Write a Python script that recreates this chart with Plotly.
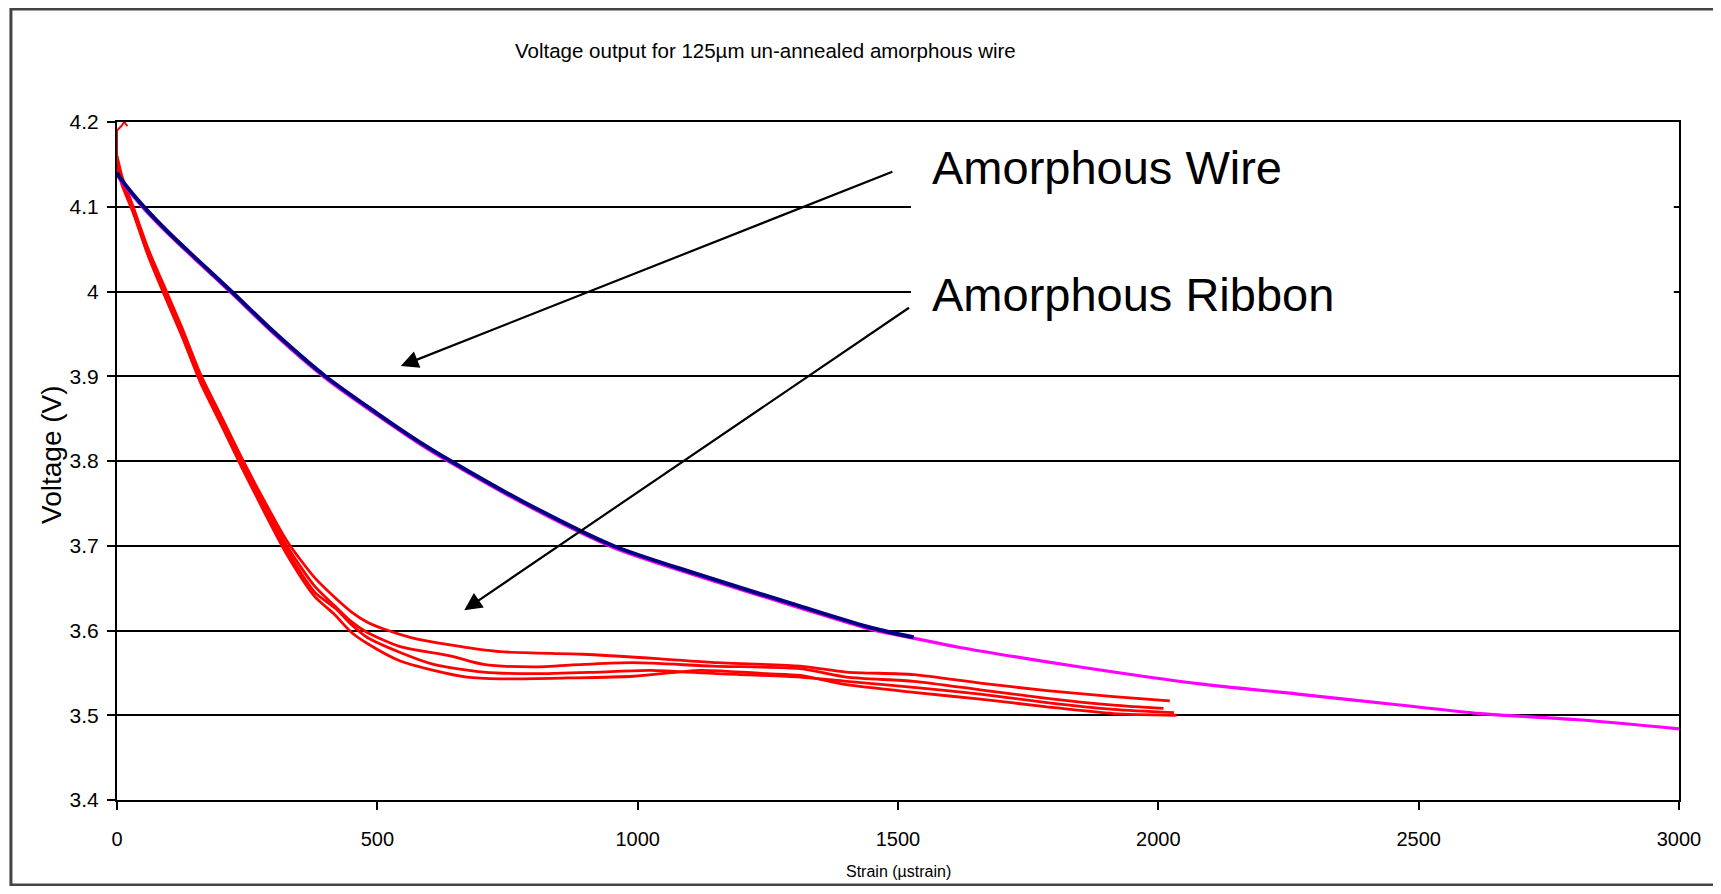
import plotly.graph_objects as go

# ---------------- data ----------------
wire_x = [0, 6, 50, 100, 150, 220, 300, 400, 500, 582, 641, 780, 953, 1112, 1310, 1450, 1530]
wire_y = [4.14, 4.134, 4.101, 4.069, 4.040, 4.00, 3.953, 3.90, 3.856, 3.822, 3.80, 3.752, 3.70, 3.667,
          3.629, 3.603, 3.592]

wire_full_x = [0, 6, 50, 100, 150, 220, 300, 400, 500, 582, 641, 780, 953, 1112, 1310, 1450, 1530,
               1619, 1786, 1914, 2080, 2268, 2450, 2618, 2800, 3000]
wire_full_y = [4.138, 4.132, 4.099, 4.067, 4.038, 3.998, 3.951, 3.898, 3.854, 3.820, 3.798, 3.750, 3.698,
               3.665, 3.627, 3.601, 3.591, 3.580, 3.563, 3.551, 3.537, 3.525, 3.513, 3.502, 3.495, 3.484]

ribbon_spike_x = [0, 0, 8, 14, 20]
ribbon_spike_y = [4.16, 4.19, 4.195, 4.2, 4.195]

ribbon_a_x = [0, 10, 31, 60, 95, 125, 160, 200, 240, 282, 326, 380, 420, 450, 480, 511, 563, 640, 736,
              896, 1056, 1152, 1312, 1401, 1530, 1658, 1786, 1914, 2022]
ribbon_a_y = [4.16, 4.135, 4.10, 4.05, 4.00, 3.957, 3.903, 3.853, 3.803, 3.754, 3.706, 3.662, 3.638, 3.622,
              3.610, 3.602, 3.592, 3.583, 3.575, 3.572, 3.566, 3.562, 3.558, 3.551, 3.548, 3.538, 3.529,
              3.522, 3.517]

ribbon_b_x = [0, 10, 31, 60, 95, 125, 160, 200, 240, 282, 326, 380, 420, 447, 480, 544, 640, 704, 800,
              896, 992, 1145, 1312, 1401, 1530, 1658, 1786, 1914, 2010]
ribbon_b_y = [4.155, 4.13, 4.098, 4.047, 3.997, 3.953, 3.899, 3.849, 3.799, 3.749, 3.700, 3.652, 3.628,
              3.612, 3.598, 3.581, 3.570, 3.560, 3.557, 3.560, 3.562, 3.558, 3.555, 3.545, 3.540, 3.530,
              3.520, 3.512, 3.508]

ribbon_c_x = [0, 10, 31, 60, 95, 125, 160, 200, 240, 282, 326, 380, 420, 450, 480, 544, 608, 704, 800,
              928, 1024, 1152, 1312, 1401, 1530, 1658, 1786, 1914, 2030]
ribbon_c_y = [4.15, 4.127, 4.095, 4.044, 3.994, 3.95, 3.896, 3.846, 3.796, 3.745, 3.695, 3.645, 3.626,
              3.607, 3.592, 3.574, 3.560, 3.551, 3.549, 3.551, 3.553, 3.549, 3.545, 3.540, 3.533, 3.525,
              3.515, 3.507, 3.503]

ribbon_d_x = [0, 10, 31, 60, 95, 125, 160, 200, 240, 282, 326, 380, 416, 450, 480, 544, 608, 672, 736,
              864, 992, 1120, 1248, 1312, 1401, 1530, 1658, 1786, 1914, 2035]
ribbon_d_y = [4.145, 4.125, 4.093, 4.042, 3.99, 3.947, 3.893, 3.843, 3.792, 3.741, 3.690, 3.640, 3.620,
              3.598, 3.585, 3.564, 3.553, 3.545, 3.543, 3.544, 3.546, 3.553, 3.549, 3.547, 3.536, 3.527,
              3.519, 3.510, 3.502, 3.500]

y_tick_vals = [4.2, 4.1, 4.0, 3.9, 3.8, 3.7, 3.6, 3.5, 3.4]
y_tick_text = ["4.2", "4.1", "4", "3.9", "3.8", "3.7", "3.6", "3.5", "3.4"]
x_tick_vals = [0, 500, 1000, 1500, 2000, 2500, 3000]
x_tick_text = ["0", "500", "1000", "1500", "2000", "2500", "3000"]

title_text = "Voltage output for 125µm un-annealed amorphous wire"
x_title = "Strain (µstrain)"
y_title = "Voltage (V)"
label_wire = "Amorphous Wire"
label_ribbon = "Amorphous Ribbon"

# ---------------- figure ----------------
ARIAL = "Arial, Liberation Sans, sans-serif"

fig = go.Figure()

ribbon_sets = [(ribbon_a_x, ribbon_a_y), (ribbon_b_x, ribbon_b_y),
               (ribbon_c_x, ribbon_c_y), (ribbon_d_x, ribbon_d_y)]
for rx, ry in ribbon_sets:
    fig.add_trace(go.Scatter(x=rx, y=ry, mode="lines",
                             line=dict(color="#FF0000", width=2.8, shape="spline", smoothing=0.7),
                             showlegend=False, hoverinfo="skip"))
fig.add_trace(go.Scatter(x=ribbon_spike_x, y=ribbon_spike_y, mode="lines",
                         line=dict(color="#FF0000", width=2), showlegend=False, hoverinfo="skip"))

fig.add_trace(go.Scatter(x=wire_full_x, y=wire_full_y, mode="lines",
                         line=dict(color="#FF00FF", width=3.2, shape="spline", smoothing=0.8),
                         showlegend=False, hoverinfo="skip"))
fig.add_trace(go.Scatter(x=wire_x, y=wire_y, mode="lines",
                         line=dict(color="#000080", width=4, shape="spline", smoothing=0.8),
                         showlegend=False, hoverinfo="skip"))

# page body has an 8px margin: plot area spans x 117..1679, y 122..800 on screen
fig.update_layout(
    width=1705, height=878,
    margin=dict(l=109, r=34, t=114, b=86),
    paper_bgcolor="white", plot_bgcolor="white",
    showlegend=False,
    font=dict(family=ARIAL, color="black"),
)

fig.update_xaxes(
    range=[0, 3000], tickvals=x_tick_vals, ticktext=x_tick_text,
    showgrid=False, zeroline=False,
    showline=True, linecolor="black", linewidth=2, mirror=True,
    ticks="outside", ticklen=8, tickwidth=1.5, tickcolor="black",
    tickfont=dict(family=ARIAL, size=20, color="black"),
    ticklabelstandoff=12,
)
fig.update_yaxes(
    range=[3.4, 4.2], tickvals=y_tick_vals, ticktext=y_tick_text,
    showgrid=True, gridcolor="black", gridwidth=2, zeroline=False,
    showline=True, linecolor="black", linewidth=2, mirror=True,
    ticks="outside", ticklen=8, tickwidth=1.5, tickcolor="black",
    tickfont=dict(family=ARIAL, size=21, color="black"),
    ticklabelstandoff=4,
)

# white label box hiding grid lines behind text
fig.add_shape(type="rect", xref="x", yref="y", x0=1525, x1=2990, y0=3.93, y1=4.19,
              fillcolor="white", line=dict(width=0), layer="above")

# outer frame
fig.add_shape(type="rect", xref="paper", yref="paper",
              x0=-0.0679, x1=1.06, y0=-0.1255, y1=1.1667,
              line=dict(color="#444444", width=3), fillcolor="rgba(0,0,0,0)", layer="above")

annotations = [
    dict(text=title_text, xref="paper", yref="paper", x=0.2535, y=1.106,
         xanchor="left", yanchor="middle", showarrow=False,
         font=dict(family=ARIAL, size=20.5, color="black")),
    dict(text=x_title, xref="paper", yref="paper", x=0.5, y=-0.106,
         xanchor="center", yanchor="middle", showarrow=False,
         font=dict(family=ARIAL, size=16, color="black")),
    dict(text=y_title, xref="paper", yref="paper", x=-0.0416, y=0.509,
         xanchor="center", yanchor="middle", showarrow=False, textangle=-90,
         font=dict(family=ARIAL, size=28, color="black")),
    dict(text=label_wire, xref="x", yref="y", x=1561, y=4.146,
         xanchor="left", yanchor="middle", showarrow=False,
         font=dict(family=ARIAL, size=47, color="black")),
    dict(text=label_ribbon, xref="x", yref="y", x=1561, y=3.997,
         xanchor="left", yanchor="middle", showarrow=False,
         font=dict(family=ARIAL, size=47, color="black")),
    dict(text="", xref="x", yref="y", axref="x", ayref="y",
         x=545, y=3.912, ax=1492, ay=4.142, showarrow=True,
         arrowhead=2, arrowsize=1.6, arrowwidth=2.2, arrowcolor="black", standoff=0),
    dict(text="", xref="x", yref="y", axref="x", ayref="y",
         x=667, y=3.624, ax=1524, ay=3.982, showarrow=True,
         arrowhead=2, arrowsize=1.6, arrowwidth=2.2, arrowcolor="black", standoff=0),
]
fig.update_layout(annotations=annotations)

fig.write_html("out.html")
